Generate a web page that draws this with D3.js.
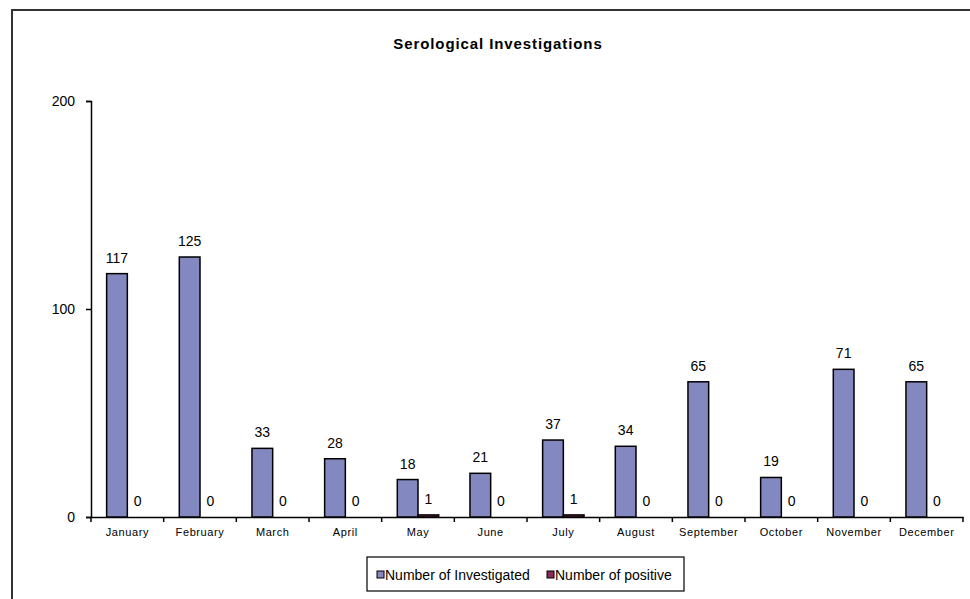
<!DOCTYPE html>
<html><head><meta charset="utf-8">
<script src="https://cdn.jsdelivr.net/npm/d3@7"></script>
<style>body{margin:0;background:#fff;}svg{display:block;font-family:"Liberation Sans",Arial,sans-serif;}</style>
</head><body>
<svg id="c" width="970" height="599"></svg>
<script>
const categories = ["January","February","March","April","May","June","July","August","September","October","November","December"];
const investigated = [117,125,33,28,18,21,37,34,65,19,71,65];
const positive = [0,0,0,0,1,0,1,0,0,0,0,0];
const seriesNames = ["Number of Investigated","Number of positive"];
const colors = ["#8488C0","#8B2A5A"];
const yTicks = [0,100,200];

const svg = d3.select("#c");
svg.append("path").attr("d","M12,599 V10 H970").attr("fill","none").attr("stroke","#333").attr("stroke-width",2);

svg.append("text").attr("x",498).attr("y",49).attr("text-anchor","middle")
  .attr("font-size",15).attr("font-weight","bold").attr("letter-spacing",0.9).text("Serological Investigations");

const x0 = 91, x1 = 963, yTop = 101, yBot = 517;
const x = d3.scaleBand().domain(categories).range([x0,x1]).paddingInner(0).paddingOuter(0);
const y = d3.scaleLinear().domain([0,200]).range([yBot,yTop]);
const bw = 20.7;
const gOff = (x.bandwidth() - 2*bw)/2;

const ya = svg.append("g").attr("transform",`translate(${x0},0)`)
  .call(d3.axisLeft(y).tickValues(yTicks).tickSize(5).tickFormat(d3.format("d")));
ya.select(".domain").attr("stroke","#000").attr("stroke-width",1.5);
ya.selectAll(".tick line").attr("stroke","#000").attr("stroke-width",1.5);
ya.selectAll(".tick text").attr("font-size",14).attr("fill","#000").attr("x",-16).attr("font-family","Liberation Sans, Arial, sans-serif");

const xa = svg.append("g").attr("transform",`translate(0,${yBot})`)
  .call(d3.axisBottom(x).tickSize(0).tickFormat(d=>d));
xa.select(".domain").attr("stroke","#000").attr("stroke-width",1.5);
xa.selectAll(".tick text").attr("font-size",11).attr("letter-spacing",0.6).attr("fill","#000").attr("dy","0").attr("y",19).attr("font-family","Liberation Sans, Arial, sans-serif");
const bounds = categories.map(c=>x(c)).concat([x1]);
svg.append("g").selectAll("line").data(bounds).join("line")
  .attr("x1",d=>d).attr("x2",d=>d).attr("y1",yBot).attr("y2",yBot+5)
  .attr("stroke","#000").attr("stroke-width",1.5);

const series = [investigated, positive];
series.forEach((vals,si)=>{
  const g = svg.append("g");
  g.selectAll("rect").data(vals).join("rect")
    .attr("x",(d,i)=>x(categories[i])+gOff+si*bw)
    .attr("y",d=>y(d))
    .attr("width",bw)
    .attr("height",d=>yBot-y(d))
    .attr("fill",colors[si]).attr("stroke","#000").attr("stroke-width",d=>d>0?1.5:0);
  g.selectAll("text").data(vals).join("text")
    .attr("x",(d,i)=>x(categories[i])+gOff+si*bw+bw/2)
    .attr("y",d=>y(d)-11)
    .attr("text-anchor","middle").attr("font-size",14).attr("fill","#000")
    .text(d=>d);
});

const lg = svg.append("g");
lg.append("rect").attr("x",367).attr("y",557).attr("width",317).attr("height",34)
  .attr("fill","#fff").attr("stroke","#000").attr("stroke-width",1.2);
const lx = [377,547];
seriesNames.forEach((n,i)=>{
  lg.append("rect").attr("x",lx[i]).attr("y",571).attr("width",7).attr("height",7)
    .attr("fill",colors[i]).attr("stroke","#000").attr("stroke-width",1);
  lg.append("text").attr("x",lx[i]+8).attr("y",579.5).attr("font-size",14).attr("fill","#000").text(n);
});
</script>
</body></html>
